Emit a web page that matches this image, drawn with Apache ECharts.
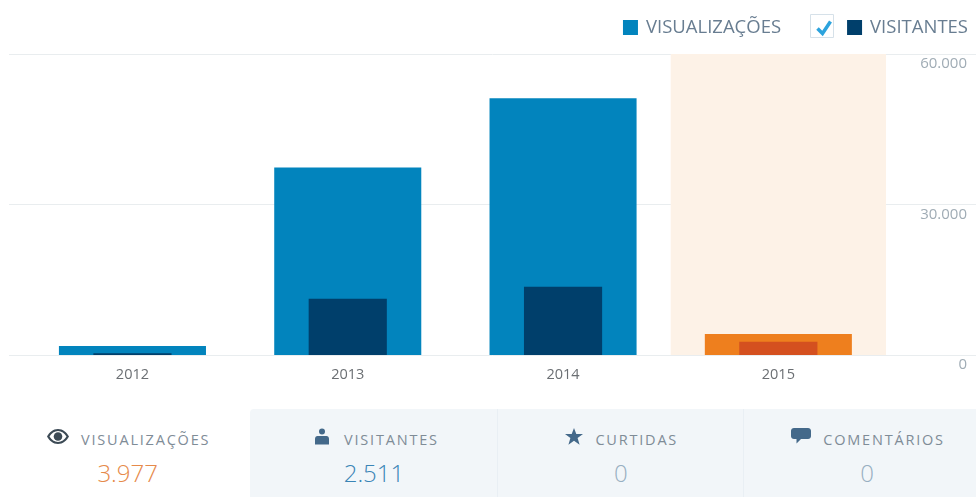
<!DOCTYPE html>
<html>
<head>
<meta charset="utf-8">
<title>Estatísticas</title>
<script src="https://cdn.jsdelivr.net/npm/echarts@6/dist/echarts.min.js"></script>
<style>
html, body { margin: 0; padding: 0; background: #fff; overflow: hidden; }
body { width: 976px; height: 497px; position: relative; font-family: "Open Sans", sans-serif; }
#chart { position: absolute; left: 0; top: 0; width: 976px; height: 405px; }
#stats { position: absolute; left: 0; top: 409px; width: 976px; height: 88px; overflow: hidden; }
#stats .bg { position: absolute; left: 250px; right: 0; top: 0; bottom: 0; background: #f2f6f9; border-top-left-radius: 4px; }
.tile { position: absolute; top: 0; height: 88px; width: 246.3px; text-align: center; box-sizing: border-box; }
.tile.sep { border-left: 1px solid #e9eff4; }
.tile .head { position: absolute; left: 2px; right: 0; top: 18px; height: 24px; display: flex; justify-content: center; align-items: center; }
.tile svg { margin-right: 12px; margin-top: -5px; display: block; }
.tile .label { font-size: 14.5px; letter-spacing: 1.8px; color: #7f8c97; white-space: nowrap; }
.tile .value { position: absolute; left: 0; right: 0; top: 47px; font-size: 24px; line-height: 34px; font-weight: 300; }
</style>
</head>
<body>
<div id="chart"></div>
<div id="stats"><div class="bg"></div></div>
<script>
var years = ['2012', '2013', '2014', '2015'];
var views = [1800, 37400, 51200, 4200];
var visitors = [350, 11200, 13600, 2650];
var highlight = [null, null, null, 60000];
var yTicks = { max: 60000, interval: 30000 };

var statLabels = ['VISUALIZAÇÕES', 'VISITANTES', 'CURTIDAS', 'COMENTÁRIOS'];
var statValues = ['3.977', '2.511', '0', '0'];
var statColors = ['#e68a4a', '#3a85b6', '#98afc1', '#98afc1'];

var icons = [
	'<svg width="22" height="17" viewBox="0 0 22 17"><path fill="#3c4a55" d="M11 1C6 1 2.400 4.200 0 8.500 2.400 12.800 6 16 11 16s8.600-3.200 11-7.500C19.600 4.200 16 1 11 1zm0 13C7.400 14 4.600 11.800 2.500 8.500 4.600 5.200 7.400 3 11 3s6.400 2.200 8.500 5.500C17.400 11.800 14.600 14 11 14z"/><circle cx="11" cy="8.500" r="4.300" fill="#3c4a55"/></svg>',
	'<svg width="14" height="17" viewBox="0 0 14 17" style="margin-left:4px;margin-right:15px"><circle cx="7" cy="3.500" r="3" fill="#44698a"/><path fill="#44698a" d="M2.500 8h9C13 8 14 9.200 14 11v5.500H0V11c0-1.800 1-3 2.500-3z"/></svg>',
	'<svg width="18" height="17" viewBox="0 0 18 17"><path fill="#44698a" d="M9 0l2.300 6H18l-5.400 4 2 6.800L9 12.800l-5.600 4 2-6.800L0 6h6.700z"/></svg>',
	'<svg width="20" height="17" viewBox="0 0 20 17"><path fill="#44698a" d="M3 0h14c1.700 0 3 1.200 3 2.800v5.400C20 9.800 18.700 11 17 11H10l-4.500 4.500V11H3C1.300 11 0 9.800 0 8.200V2.800C0 1.200 1.300 0 3 0z"/></svg>'
];

// blocos de baixo
var stats = document.getElementById('stats');
statLabels.forEach(function(label, i) {
	var tile = document.createElement('div');
	tile.className = 'tile' + (i > 1 ? ' sep' : '');
	tile.style.left = (4.5 + i * 246.3) + 'px';
	tile.innerHTML = '<div class="head">' + icons[i] + '<span class="label">' + label + '</span></div>' +
		'<div class="value" style="color:' + statColors[i] + '">' + statValues[i] + '</div>';
	stats.appendChild(tile);
});

var myChart = echarts.init(document.getElementById('chart'));

var option = {
	animation: false,
	textStyle: { fontFamily: '"Open Sans", sans-serif' },
	legend: {
		right: 8,
		top: 18,
		padding: 0,
		itemWidth: 15,
		itemHeight: 15,
		itemGap: 66,
		icon: 'rect',
		selectedMode: false,
		data: ['VISUALIZAÇÕES', 'VISITANTES'],
		textStyle: { fontFamily: '"Open Sans", sans-serif', fontSize: 18.5, color: '#687d91', padding: [1, 0, 0, 3] }
	},
	// caixinha marcada entre as duas legendas
	graphic: [
		{ type: 'rect', left: 810, top: 14, shape: { width: 23, height: 23 }, style: { fill: '#fff', stroke: '#d6e1e9', lineWidth: 1 } },
		{ type: 'polyline', left: 815, top: 19, shape: { points: [[0, 7], [5, 12], [13, 0]] }, style: { fill: null, stroke: '#2ca3dd', lineWidth: 3.5 } }
	],
	grid: [
		{ left: 9, right: 0, top: 54, height: 301 },
		{ left: 24.8, right: 90, top: 54, height: 301 }
	],
	xAxis: [
		{ type: 'category', gridIndex: 0, show: false, data: years },
		{
			type: 'category', gridIndex: 1, data: years,
			axisLine: { show: false },
			axisTick: { show: false },
			axisLabel: { fontSize: 14.5, color: '#6b6f73', margin: 12 }
		},
		{ type: 'category', gridIndex: 1, show: false, data: years },
		{ type: 'category', gridIndex: 1, show: false, data: years }
	],
	yAxis: [
		{
			type: 'value', gridIndex: 0, position: 'right',
			min: 0, max: yTicks.max, interval: yTicks.interval,
			axisLine: { show: false },
			axisTick: { show: false },
			splitLine: { lineStyle: { color: '#e9edef', width: 1 } },
			axisLabel: {
				inside: true, margin: 9, align: 'right', verticalAlign: 'top', lineHeight: 20,
				fontSize: 15, color: '#a0acb5',
				formatter: function(v) { return String(v).replace(/\B(?=(\d{3})+$)/g, '.'); }
			}
		},
		{ type: 'value', gridIndex: 1, show: false, min: 0, max: yTicks.max, interval: yTicks.interval }
	],
	series: [
		{
			name: 'destaque', type: 'bar', xAxisIndex: 3, yAxisIndex: 1, barWidth: '100%', z: 1, silent: true,
			itemStyle: { color: '#fdf2e7' },
			data: highlight
		},
		{
			name: 'VISUALIZAÇÕES', type: 'bar', xAxisIndex: 1, yAxisIndex: 1, barWidth: '68.300%', z: 2,
			itemStyle: { color: '#0284bd' },
			data: views.map(function(v, i) {
				return highlight[i] ? { value: v, itemStyle: { color: '#ee7f1e' } } : v;
			})
		},
		{
			name: 'VISITANTES', type: 'bar', xAxisIndex: 2, yAxisIndex: 1, barWidth: '36.300%', z: 3,
			itemStyle: { color: '#003f6b' },
			data: visitors.map(function(v, i) {
				return highlight[i] ? { value: v, itemStyle: { color: '#d4501f' } } : v;
			})
		}
	]
};

myChart.setOption(option);
</script>
</body>
</html>
